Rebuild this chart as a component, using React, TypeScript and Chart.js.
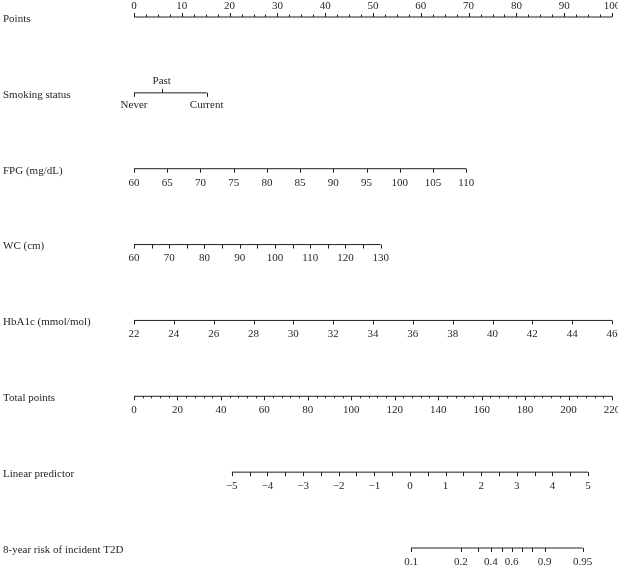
import React, { useEffect, useRef } from 'react';
import { Chart, registerables } from 'chart.js';
Chart.register(...registerables);

// ---------- data ----------
const rowLabels = [
  'Points',
  'Smoking status',
  'FPG (mg/dL)',
  'WC (cm)',
  'HbA1c (mmol/mol)',
  'Total points',
  'Linear predictor',
  '8-year risk of incident T2D',
];

// Points scale (0–100)
const pointsLabelTicks = [0, 10, 20, 30, 40, 50, 60, 70, 80, 90, 100];
const pointsMinorTicks = [
  2.5, 5, 7.5, 12.5, 15, 17.5, 22.5, 25, 27.5, 32.5, 35, 37.5, 42.5, 45, 47.5,
  52.5, 55, 57.5, 62.5, 65, 67.5, 72.5, 75, 77.5, 82.5, 85, 87.5, 92.5, 95, 97.5,
];

// Smoking status: category -> points
const smokingCategories = ['Never', 'Past', 'Current'];
const smokingPoints = [0, 5.8, 15.2];

// FPG (mg/dL): 60 -> 0 points, 110 -> 69.5 points
const fpgTicks = [60, 65, 70, 75, 80, 85, 90, 95, 100, 105, 110];
const fpgLabels = [60, 65, 70, 75, 80, 85, 90, 95, 100, 105, 110];
const fpgRange = [60, 110];
const fpgPointsRange = [0, 69.5];

// WC (cm): 60 -> 0 points, 130 -> 51.6 points
const wcTicks = [60, 65, 70, 75, 80, 85, 90, 95, 100, 105, 110, 115, 120, 125, 130];
const wcLabels = [60, 70, 80, 90, 100, 110, 120, 130];
const wcRange = [60, 130];
const wcPointsRange = [0, 51.6];

// HbA1c (mmol/mol): 22 -> 0 points, 46 -> 100 points
const hba1cTicks = [22, 24, 26, 28, 30, 32, 34, 36, 38, 40, 42, 44, 46];
const hba1cLabels = [22, 24, 26, 28, 30, 32, 34, 36, 38, 40, 42, 44, 46];
const hba1cRange = [22, 46];
const hba1cPointsRange = [0, 100];

// Total points (0–220)
const totalPointsMax = 220;
const totalLabelTicks = [0, 20, 40, 60, 80, 100, 120, 140, 160, 180, 200, 220];
const totalMinorTicks = [
  4, 8, 12, 16, 24, 28, 32, 36, 44, 48, 52, 56, 64, 68, 72, 76, 84, 88, 92, 96,
  104, 108, 112, 116, 124, 128, 132, 136, 144, 148, 152, 156, 164, 168, 172, 176,
  184, 188, 192, 196, 204, 208, 212, 216,
];

// Linear predictor: -5 -> 45 total points, 5 -> 209 total points
const lpTicks = [-5, -4.5, -4, -3.5, -3, -2.5, -2, -1.5, -1, -0.5, 0, 0.5, 1, 1.5, 2, 2.5, 3, 3.5, 4, 4.5, 5];
const lpLabels = [-5, -4, -3, -2, -1, 0, 1, 2, 3, 4, 5];
const lpRange = [-5, 5];
const lpTotalRange = [45, 209];

// 8-year risk: tick value -> total points
const riskTicks = [0.1, 0.2, 0.3, 0.4, 0.5, 0.6, 0.7, 0.8, 0.9, 0.95];
const riskTotalPoints = [127.5, 150.5, 158.5, 164.3, 169.2, 173.8, 178.4, 183.3, 189.0, 206.5];
const riskLabels = [0.1, 0.2, 0.4, 0.6, 0.9, 0.95];

// ---------- build axes ----------
type Tick = { p: number; len: number; label?: string };
type Axis = { row: number; dir: number; ticks: Tick[]; labelOffset: number };

const COLOR = '#231f20';
const FONT = '11px "Liberation Serif", "Times New Roman", serif';

const fmt = (v: number) => (v < 0 ? '\u2212' + String(-v) : String(v));
const lin = (v: number, r: number[], pr: number[]) => pr[0] + ((v - r[0]) / (r[1] - r[0])) * (pr[1] - pr[0]);
const tpToPts = (tp: number) => (tp / totalPointsMax) * 100;

function numericAxis(row: number, ticks: number[], labels: number[], map: (v: number) => number, len = 4): Axis {
  return {
    row,
    dir: 1,
    labelOffset: 14,
    ticks: ticks.map((v) => ({ p: map(v), len, label: labels.includes(v) ? fmt(v) : undefined })),
  };
}

const axes: Axis[] = [
  {
    row: 0,
    dir: -1,
    labelOffset: 11,
    ticks: [
      ...pointsLabelTicks.map((v) => ({ p: v, len: 4, label: String(v) })),
      ...pointsMinorTicks.map((v) => ({ p: v, len: 2.5 })),
    ],
  },
  numericAxis(2, fpgTicks, fpgLabels, (v) => lin(v, fpgRange, fpgPointsRange)),
  numericAxis(3, wcTicks, wcLabels, (v) => lin(v, wcRange, wcPointsRange)),
  numericAxis(4, hba1cTicks, hba1cLabels, (v) => lin(v, hba1cRange, hba1cPointsRange)),
  {
    row: 5,
    dir: 1,
    labelOffset: 14,
    ticks: [
      ...totalLabelTicks.map((v) => ({ p: tpToPts(v), len: 4, label: String(v) })),
      ...totalMinorTicks.map((v) => ({ p: tpToPts(v), len: 2 })),
    ],
  },
  numericAxis(6, lpTicks, lpLabels, (v) => tpToPts(lin(v, lpRange, lpTotalRange))),
  {
    row: 7,
    dir: 1,
    labelOffset: 14,
    ticks: riskTicks.map((v, i) => ({
      p: tpToPts(riskTotalPoints[i]),
      len: 4,
      label: riskLabels.includes(v) ? String(v) : undefined,
    })),
  },
];

const smokingAxis = {
  row: 1,
  ticks: smokingCategories.map((c, i) => ({ p: smokingPoints[i], label: c, dir: i === 1 ? -1 : 1 })),
};

const lineRows = [
  ...axes.map((a) => {
    const ps = a.ticks.map((t) => t.p);
    return { row: a.row, min: Math.min(...ps), max: Math.max(...ps) };
  }),
  { row: 1, min: Math.min(...smokingPoints), max: Math.max(...smokingPoints) },
];

const nomogramPlugin = {
  id: 'nomogram',
  afterDatasetsDraw(chart: any) {
    const ctx = chart.ctx as CanvasRenderingContext2D;
    const xs = chart.scales.x;
    const ys = chart.scales.y;
    ctx.save();
    ctx.strokeStyle = COLOR;
    ctx.fillStyle = COLOR;
    ctx.lineWidth = 1;
    ctx.font = FONT;
    // row titles
    ctx.textAlign = 'left';
    ctx.textBaseline = 'middle';
    rowLabels.forEach((lab, i) => {
      ctx.fillText(lab, 3, ys.getPixelForValue(i) + 2);
    });
    // numeric axes
    ctx.textAlign = 'center';
    axes.forEach((a) => {
      const y = ys.getPixelForValue(a.row);
      a.ticks.forEach((t) => {
        const x = Math.round(xs.getPixelForValue(t.p)) + 0.5;
        ctx.beginPath();
        ctx.moveTo(x, y);
        ctx.lineTo(x, y + a.dir * t.len);
        ctx.stroke();
        if (t.label !== undefined) {
          ctx.fillText(t.label, xs.getPixelForValue(t.p), y + a.dir * a.labelOffset);
        }
      });
    });
    // smoking
    const sy = ys.getPixelForValue(smokingAxis.row);
    smokingAxis.ticks.forEach((t) => {
      const x = Math.round(xs.getPixelForValue(t.p)) + 0.5;
      ctx.beginPath();
      ctx.moveTo(x, sy);
      ctx.lineTo(x, sy + t.dir * 4);
      ctx.stroke();
      ctx.fillText(t.label, xs.getPixelForValue(t.p), sy + t.dir * 12);
    });
    ctx.restore();
  },
};

export default function App() {
  const ref = useRef<HTMLCanvasElement | null>(null);
  useEffect(() => {
    if (!ref.current) return;
    const chart = new Chart(ref.current, {
      type: 'scatter',
      data: {
        datasets: lineRows.map((r) => ({
          data: [
            { x: r.min, y: r.row },
            { x: r.max, y: r.row },
          ],
          showLine: true,
          borderColor: COLOR,
          borderWidth: 1,
          pointRadius: 0,
          clip: false as any,
        })),
      },
      options: {
        animation: false,
        responsive: false,
        events: [],
        layout: { padding: { left: 134, right: 6, top: 17, bottom: 17 } },
        plugins: { legend: { display: false }, tooltip: { enabled: false } },
        scales: {
          x: { type: 'linear', min: 0, max: 100, display: false },
          y: { type: 'linear', min: 0, max: 7, reverse: true, display: false },
        },
      },
      plugins: [nomogramPlugin],
    });
    return () => chart.destroy();
  }, []);
  return (
    <div style={{ position: 'fixed', left: 0, top: 0, width: 618, height: 565, background: '#fff' }}>
      <canvas ref={ref} width={618} height={565} style={{ display: 'block' }} />
    </div>
  );
}
